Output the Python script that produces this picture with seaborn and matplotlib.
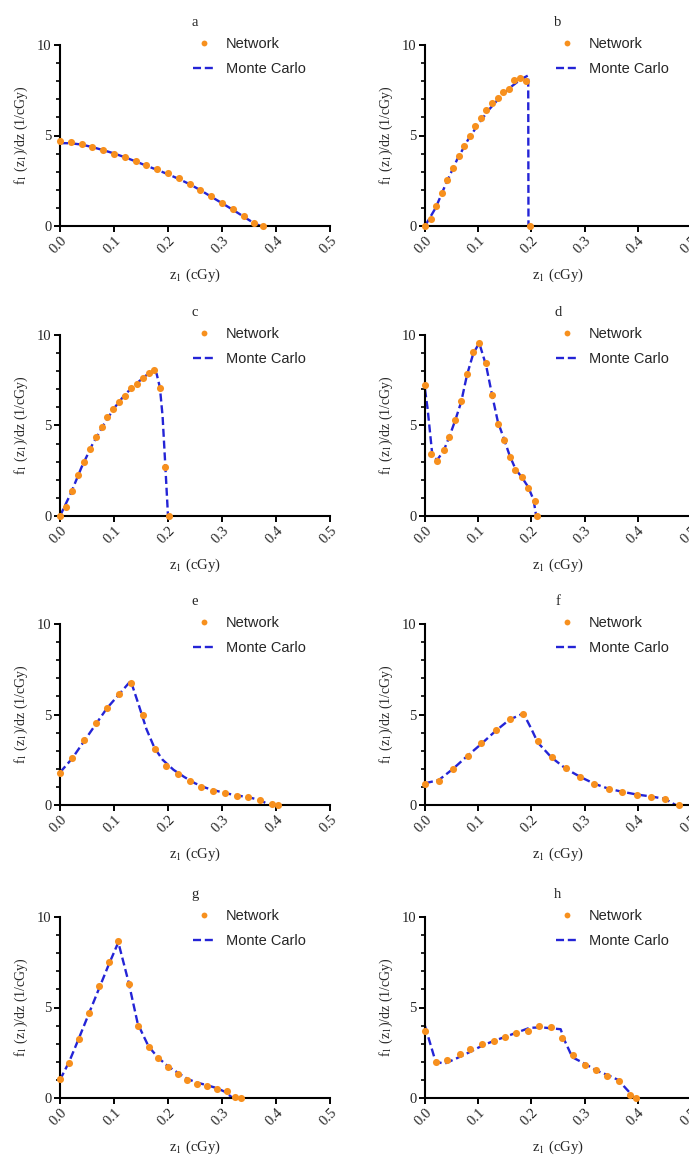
import matplotlib
matplotlib.use("Agg")
import matplotlib.pyplot as plt
import seaborn as sns
from matplotlib.lines import Line2D

# ---------------- data ----------------
a_x_net = [0, 0.02, 0.04, 0.06, 0.08, 0.10, 0.12, 0.14, 0.16, 0.18, 0.20, 0.22, 0.24, 0.26, 0.28, 0.30, 0.32, 0.34, 0.36, 0.375]
a_net = [4.71, 4.66, 4.51, 4.36, 4.18, 4.00, 3.81, 3.57, 3.35, 3.17, 2.91, 2.65, 2.34, 1.99, 1.64, 1.29, 0.94, 0.55, 0.18, 0.0]
a_x_mc = [0, 0.02, 0.04, 0.06, 0.08, 0.10, 0.12, 0.14, 0.16, 0.18, 0.20, 0.22, 0.24, 0.26, 0.28, 0.30, 0.32, 0.34, 0.36, 0.372]
a_mc = [4.58, 4.57, 4.50, 4.36, 4.19, 4.01, 3.80, 3.57, 3.33, 3.10, 2.86, 2.60, 2.31, 1.98, 1.62, 1.26, 0.90, 0.52, 0.14, 0.0]

b_x_net = [0, 0.0105, 0.021, 0.0315, 0.042, 0.0525, 0.063, 0.0735, 0.084, 0.0945, 0.105, 0.1155, 0.126, 0.1365, 0.147, 0.1575, 0.168, 0.1795, 0.1905, 0.197]
b_net = [0, 0.39, 1.11, 1.85, 2.54, 3.20, 3.85, 4.41, 4.96, 5.52, 5.98, 6.41, 6.78, 7.06, 7.41, 7.59, 8.04, 8.15, 8.02, 0]
b_x_mc = [0, 0.02, 0.04, 0.06, 0.08, 0.10, 0.12, 0.14, 0.16, 0.18, 0.194, 0.1945]
b_mc = [0, 1.0, 2.38, 3.65, 4.72, 5.62, 6.42, 7.08, 7.65, 8.10, 8.32, 0]

c_x_net = [0, 0.011, 0.0215, 0.033, 0.044, 0.055, 0.066, 0.077, 0.087, 0.098, 0.109, 0.12, 0.131, 0.142, 0.153, 0.164, 0.174, 0.185, 0.195, 0.202]
c_net = [0, 0.52, 1.40, 2.25, 3.01, 3.72, 4.36, 4.92, 5.47, 5.93, 6.28, 6.65, 7.08, 7.32, 7.63, 7.91, 8.04, 7.06, 2.70, 0]
c_x_mc = [0, 0.02, 0.04, 0.06, 0.08, 0.10, 0.12, 0.14, 0.16, 0.174, 0.179, 0.185, 0.19, 0.195, 0.2]
c_mc = [0, 1.25, 2.70, 3.95, 5.00, 5.95, 6.70, 7.28, 7.78, 8.05, 7.85, 7.10, 5.50, 2.80, 0]

d_x_net = [0, 0.011, 0.023, 0.035, 0.046, 0.057, 0.068, 0.079, 0.091, 0.102, 0.115, 0.126, 0.137, 0.148, 0.159, 0.17, 0.183, 0.194, 0.206, 0.211]
d_net = [7.22, 3.44, 3.06, 3.63, 4.37, 5.33, 6.35, 7.83, 9.04, 9.54, 8.48, 6.69, 5.09, 4.19, 3.28, 2.52, 2.13, 1.54, 0.85, 0]
d_x_mc = [0, 0.005, 0.014, 0.023, 0.035, 0.046, 0.057, 0.068, 0.079, 0.091, 0.102, 0.115, 0.126, 0.137, 0.148, 0.159, 0.17, 0.183, 0.194, 0.204, 0.209]
d_mc = [7.0, 5.9, 3.3, 3.1, 3.6, 4.4, 5.3, 6.3, 7.8, 9.0, 9.55, 8.3, 6.7, 5.2, 4.3, 3.35, 2.6, 2.1, 1.6, 0.9, 0]

e_x_net = [0, 0.022, 0.044, 0.066, 0.087, 0.109, 0.131, 0.153, 0.175, 0.197, 0.219, 0.24, 0.262, 0.284, 0.305, 0.327, 0.348, 0.37, 0.392, 0.403]
e_net = [1.77, 2.61, 3.57, 4.53, 5.38, 6.12, 6.73, 4.95, 3.07, 2.18, 1.72, 1.35, 1.0, 0.76, 0.65, 0.52, 0.43, 0.30, 0.06, 0]
e_x_mc = [0, 0.022, 0.044, 0.066, 0.087, 0.109, 0.131, 0.145, 0.16, 0.175, 0.19, 0.21, 0.23, 0.25, 0.27, 0.29, 0.31, 0.33, 0.35, 0.37, 0.388]
e_mc = [1.80, 2.55, 3.50, 4.45, 5.35, 6.10, 6.86, 5.60, 4.20, 3.15, 2.50, 1.95, 1.55, 1.20, 0.95, 0.78, 0.63, 0.52, 0.42, 0.28, 0]

f_x_net = [0, 0.026, 0.052, 0.08, 0.106, 0.133, 0.159, 0.185, 0.212, 0.238, 0.265, 0.292, 0.318, 0.345, 0.371, 0.398, 0.425, 0.451, 0.477]
f_net = [1.18, 1.35, 2.01, 2.70, 3.40, 4.12, 4.77, 5.03, 3.53, 2.66, 2.03, 1.52, 1.15, 0.87, 0.72, 0.57, 0.46, 0.35, 0]
f_x_mc = [0, 0.026, 0.052, 0.08, 0.106, 0.133, 0.159, 0.185, 0.2, 0.212, 0.238, 0.265, 0.292, 0.318, 0.345, 0.371, 0.398, 0.425, 0.451, 0.471]
f_mc = [1.20, 1.38, 1.98, 2.72, 3.38, 4.10, 4.72, 5.06, 4.20, 3.45, 2.62, 2.00, 1.55, 1.18, 0.90, 0.73, 0.58, 0.47, 0.34, 0]

g_x_net = [0, 0.017, 0.035, 0.054, 0.073, 0.09, 0.108, 0.127, 0.144, 0.164, 0.181, 0.2, 0.219, 0.236, 0.254, 0.273, 0.29, 0.309, 0.324, 0.335]
g_net = [1.07, 1.96, 3.26, 4.69, 6.17, 7.50, 8.70, 6.30, 3.98, 2.80, 2.22, 1.72, 1.31, 1.0, 0.80, 0.67, 0.52, 0.37, 0.06, 0]
g_x_mc = [0, 0.017, 0.035, 0.054, 0.073, 0.09, 0.108, 0.127, 0.144, 0.164, 0.181, 0.2, 0.219, 0.236, 0.254, 0.273, 0.29, 0.305, 0.32]
g_mc = [1.0, 2.0, 3.3, 4.7, 6.1, 7.35, 8.6, 6.4, 4.1, 2.85, 2.25, 1.75, 1.38, 1.05, 0.85, 0.70, 0.55, 0.35, 0]

h_x_net = [0, 0.0215, 0.042, 0.065, 0.085, 0.108, 0.129, 0.151, 0.171, 0.193, 0.214, 0.236, 0.257, 0.278, 0.3, 0.322, 0.343, 0.365, 0.386, 0.396]
h_net = [3.70, 2.0, 2.09, 2.41, 2.69, 2.96, 3.15, 3.39, 3.57, 3.70, 3.96, 3.94, 3.33, 2.37, 1.85, 1.52, 1.24, 0.93, 0.19, 0]
h_x_mc = [0, 0.02, 0.037, 0.06, 0.085, 0.108, 0.129, 0.151, 0.171, 0.197, 0.22, 0.255, 0.262, 0.277, 0.3, 0.323, 0.345, 0.363, 0.394]
h_mc = [3.98, 2.0, 1.9, 2.2, 2.55, 2.9, 3.15, 3.38, 3.6, 3.88, 3.9, 3.8, 3.2, 2.25, 1.9, 1.5, 1.25, 1.0, 0]

panel_labels = ["a", "b", "c", "d", "e", "f", "g", "h"]
x_ticks = [0.0, 0.1, 0.2, 0.3, 0.4, 0.5]
y_ticks = [0, 5, 10]
series_names = ["Network", "Monte Carlo"]

panels = [
    (a_x_net, a_net, a_x_mc, a_mc), (b_x_net, b_net, b_x_mc, b_mc),
    (c_x_net, c_net, c_x_mc, c_mc), (d_x_net, d_net, d_x_mc, d_mc),
    (e_x_net, e_net, e_x_mc, e_mc), (f_x_net, f_net, f_x_mc, f_mc),
    (g_x_net, g_net, g_x_mc, g_mc), (h_x_net, h_net, h_x_mc, h_mc),
]

# ---------------- style ----------------
sns.set_theme(style="ticks")
plt.rcParams["font.family"] = ["Liberation Serif", "DejaVu Serif"]
plt.rcParams["mathtext.fontset"] = "stix"

ORANGE = "#F7901E"
BLUE = "#2424D6"
DASH = (0, (3.4, 1.6))

W, H = 689, 1155
fig = plt.figure(figsize=(W / 100, H / 100), dpi=100)

col_left = [60, 425]
col_width = [270, 266]
row_bottom = [226, 516, 805, 1098]
ax_h = 181

for i, (lab, (xn, yn, xm, ym)) in enumerate(zip(panel_labels, panels)):
    r, c = divmod(i, 2)
    ax = fig.add_axes([col_left[c] / W, 1 - row_bottom[r] / H, col_width[c] / W, ax_h / H])
    sns.lineplot(x=xm, y=ym, ax=ax, color=BLUE, linestyle=DASH, lw=1.7,
                 sort=False, estimator=None, zorder=2)
    sns.scatterplot(x=xn, y=yn, ax=ax, color=ORANGE, s=26, linewidth=0, zorder=3, clip_on=False)
    ax.set_xlim(0, 0.5)
    ax.set_ylim(0, 10)
    ax.set_xticks(x_ticks)
    ax.set_xticklabels([f"{t:.1f}" for t in x_ticks], rotation=45, ha="right",
                       rotation_mode="anchor", fontsize=10.5)
    ax.set_yticks(y_ticks)
    ax.set_yticklabels([str(t) for t in y_ticks], fontsize=10.5)
    ax.set_yticks(range(0, 11), minor=True)
    for s in ["top", "right"]:
        ax.spines[s].set_visible(False)
    for s in ["left", "bottom"]:
        ax.spines[s].set_linewidth(1.5)
        ax.spines[s].set_color("black")
    ax.tick_params(axis="both", which="major", length=4, width=1.4, color="black", pad=2)
    ax.tick_params(axis="y", which="minor", length=3, width=1.2, color="black")
    ax.set_xlabel("z$_1$ (cGy)", fontsize=10.5, labelpad=7)
    ax.set_ylabel("f$_1$ (z$_1$)/dz (1/cGy)", fontsize=10, labelpad=5)
    ax.set_title(lab, fontsize=10.5, pad=14)
    handles = [
        Line2D([], [], marker="o", linestyle="none", color=ORANGE, markersize=4.2, markeredgewidth=0),
        Line2D([], [], color=BLUE, linestyle=DASH, lw=1.7),
    ]
    ax.legend(handles, series_names, loc="upper left", bbox_to_anchor=(0.47, 1.078),
              frameon=False, handlelength=1.55, handletextpad=0.7, labelspacing=0.75,
              borderaxespad=0, prop={"family": "Liberation Sans", "size": 10.5})

fig.savefig("out.png", dpi=100)
